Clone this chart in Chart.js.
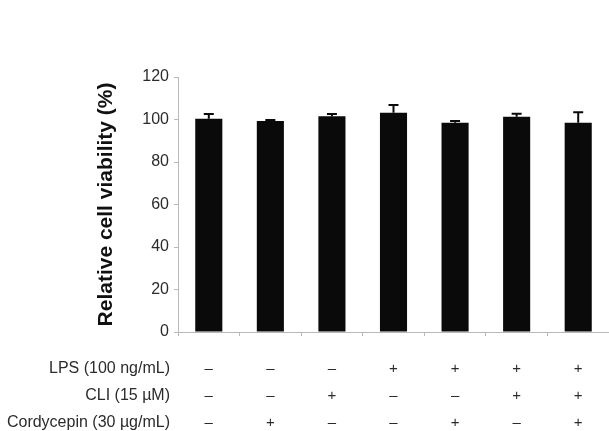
<!DOCTYPE html>
<html>
<head>
<meta charset="utf-8">
<script src="https://cdn.jsdelivr.net/npm/chart.js@4/dist/chart.umd.min.js"></script>
<style>
  html, body { margin: 0; padding: 0; background: #fff; }
  #wrap { width: 609px; height: 431px; }
</style>
</head>
<body>
<div id="wrap"><canvas id="chart" width="609" height="431"></canvas></div>
<script>
// treatment table (one entry per bar)
const rowLabels = ['LPS (100 ng/mL)', 'CLI (15 \u00b5M)', 'Cordycepin (30 \u00b5g/mL)'];
const lps        = ['\u2013', '\u2013', '\u2013', '+', '+', '+', '+'];
const cli        = ['\u2013', '\u2013', '+', '\u2013', '\u2013', '+', '+'];
const cordycepin = ['\u2013', '+', '\u2013', '\u2013', '+', '\u2013', '+'];

// relative viability (%) and SD
const viability = [100.4, 99.3, 101.5, 103.2, 98.5, 101.3, 98.5];
const errors    = [2.2, 0.5, 1.1, 3.6, 0.8, 1.4, 4.9];

const yTicks = [0, 20, 40, 60, 80, 100, 120];

const labels = lps.map((v, i) => [v, cli[i], cordycepin[i]]);

const textColor = '#2b2b2b';
const axisColor = '#b8b8b8';
const font = '"Liberation Sans", Arial, sans-serif';

// draws the SD whiskers above each bar
const errorBars = {
  id: 'errorBars',
  afterDatasetsDraw(chart) {
    const ctx = chart.ctx;
    const y = chart.scales.y;
    const meta = chart.getDatasetMeta(0);
    ctx.save();
    ctx.strokeStyle = '#0a0a0a';
    ctx.lineWidth = 2;
    meta.data.forEach((bar, i) => {
      const top = y.getPixelForValue(viability[i] + errors[i]);
      const base = y.getPixelForValue(viability[i]);
      ctx.beginPath();
      ctx.moveTo(bar.x, base);
      ctx.lineTo(bar.x, top);
      ctx.moveTo(bar.x - 5, top);
      ctx.lineTo(bar.x + 5, top);
      ctx.stroke();
    });
    ctx.restore();
  }
};

// row names to the left of the +/- table
const rowNames = {
  id: 'rowNames',
  afterDraw(chart) {
    const ctx = chart.ctx;
    const area = chart.chartArea;
    ctx.save();
    ctx.font = '16px ' + font;
    ctx.fillStyle = textColor;
    ctx.textAlign = 'right';
    ctx.textBaseline = 'middle';
    rowLabels.forEach((t, i) => {
      ctx.fillText(t, area.left - 8, area.bottom + 37 + i * 27);
    });
    ctx.restore();
  }
};

new Chart(document.getElementById('chart'), {
  type: 'bar',
  data: {
    labels: labels,
    datasets: [{
      data: viability,
      backgroundColor: '#0a0a0a',
      borderWidth: 0,
      barPercentage: 0.44,
      categoryPercentage: 1.0
    }]
  },
  options: {
    responsive: false,
    animation: false,
    layout: { padding: { left: 90, top: 77, right: 0, bottom: 0 } },
    plugins: { legend: { display: false }, tooltip: { enabled: false } },
    scales: {
      x: {
        afterFit: s => { s.height = 99; },
        border: { color: axisColor, width: 1 },
        grid: { drawOnChartArea: false, drawTicks: true, tickLength: 4, color: axisColor },
        ticks: {
          color: textColor,
          padding: 19.5,
          maxRotation: 0,
          autoSkip: false,
          font: { family: font, size: 15, lineHeight: '27px' }
        }
      },
      y: {
        min: 0,
        max: 120,
        afterFit: s => { s.width = 88; },
        afterBuildTicks: s => { s.ticks = yTicks.map(v => ({ value: v })); },
        border: { color: axisColor, width: 1 },
        grid: { drawOnChartArea: false, drawTicks: true, tickLength: 4, color: axisColor },
        ticks: {
          color: textColor,
          padding: 5,
          font: { family: font, size: 16 }
        },
        title: {
          display: true,
          text: 'Relative cell viability (%)',
          color: '#111',
          font: { family: font, size: 21, weight: 'bold' }
        }
      }
    }
  },
  plugins: [errorBars, rowNames]
});
</script>
</body>
</html>
